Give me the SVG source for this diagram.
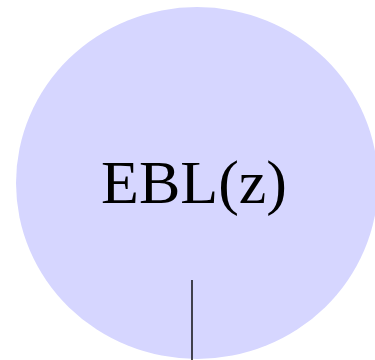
<svg xmlns="http://www.w3.org/2000/svg" width="375" height="360" viewBox="0 0 375 360">
<style>
.node{fill:#d6d6ff;stroke:none}
.label{font-family:"Liberation Serif",serif;font-size:62px;fill:#000;text-anchor:middle}
.edge{stroke:#000;stroke-width:1.4;fill:none}
</style>
<rect width="375" height="360" fill="#fff"/>
<g id="node-ebl">
<ellipse class="node" cx="197" cy="183" rx="181" ry="176"/>
<text class="label" x="194" y="203">EBL(z)</text>
</g>
<g id="connectors">
<line class="edge" x1="192" y1="280" x2="192" y2="360"/>
</g>
</svg>
